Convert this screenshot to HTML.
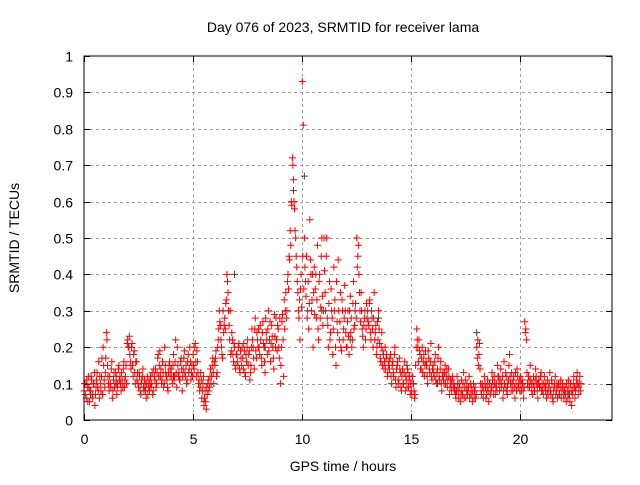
<!DOCTYPE html>
<html><head><meta charset="utf-8"><style>
body{margin:0;background:#fff;}
svg{font-family:"Liberation Sans",sans-serif;}
</style></head><body>
<svg id="chart" width="640" height="480" viewBox="0 0 640 480" xmlns="http://www.w3.org/2000/svg">
<rect width="640" height="480" fill="#fff"/>
<text x="343" y="32" font-size="14" text-anchor="middle">Day 076 of 2023, SRMTID for receiver lama</text>
<text transform="translate(19,238) rotate(-90)" font-size="14" text-anchor="middle">SRMTID / TECUs</text>
<text x="343" y="471" font-size="14" text-anchor="middle">GPS time / hours</text>
<g id="grid"></g>
<g id="ticks"></g>
<g id="black"></g>
<g id="red"></g>
<rect x="84" y="56" width="528" height="364" fill="none" stroke="#000" stroke-width="1"/>
</svg>
<script>
const xTicks=[0,5,10,15,20];
const yTicks=[0,0.1,0.2,0.3,0.4,0.5,0.6,0.7,0.8,0.9,1];
const yTickLabels=["0","0.1","0.2","0.3","0.4","0.5","0.6","0.7","0.8","0.9","1"];
const redHours=[0,1,2,3,4,5,6,7,8,9,10,11,12,13,14,15,16,17,18,19,20,21,22];
const redValues=[
[0.08,0.1,0.06,0.09,0.12,0.05,0.08,0.11,0.07,0.1,0.04,0.09,0.13,0.08,0.06,0.1,0.12,0.07,0.15,0.09],
[0.17,0.22,0.12,0.08,0.1,0.14,0.06,0.11,0.09,0.13,0.07,0.1,0.15,0.12,0.08,0.11,0.14,0.09,0.12,0.1],
[0.22,0.2,0.18,0.14,0.21,0.12,0.19,0.1,0.16,0.13,0.09,0.12,0.07,0.11,0.14,0.08,0.1,0.06,0.12,0.09],
[0.08,0.12,0.1,0.07,0.14,0.11,0.09,0.13,0.18,0.15,0.12,0.1,0.16,0.09,0.2,0.13,0.11,0.08,0.15,0.12],
[0.14,0.1,0.18,0.12,0.22,0.09,0.15,0.13,0.11,0.17,0.08,0.14,0.19,0.12,0.1,0.16,0.13,0.2,0.11,0.15],
[0.18,0.14,0.21,0.12,0.16,0.1,0.08,0.13,0.06,0.1,0.04,0.08,0.03,0.07,0.11,0.09,0.14,0.12,0.17,0.1],
[0.15,0.19,0.13,0.22,0.3,0.26,0.2,0.17,0.24,0.28,0.32,0.4,0.35,0.26,0.3,0.19,0.22,0.16,0.2,0.14],
[0.18,0.15,0.21,0.13,0.17,0.2,0.14,0.19,0.12,0.16,0.22,0.18,0.11,0.15,0.25,0.2,0.14,0.28,0.17,0.22],
[0.25,0.18,0.22,0.15,0.27,0.2,0.13,0.24,0.18,0.3,0.22,0.16,0.26,0.2,0.14,0.23,0.28,0.19,0.25,0.17],
[0.1,0.2,0.29,0.12,0.25,0.35,0.3,0.4,0.45,0.52,0.6,0.72,0.66,0.58,0.5,0.42,0.35,0.28,0.22,0.4],
[0.93,0.81,0.5,0.38,0.45,0.3,0.25,0.55,0.4,0.33,0.2,0.42,0.36,0.28,0.48,0.22,0.4,0.31,0.5,0.26],
[0.5,0.35,0.45,0.28,0.2,0.38,0.24,0.3,0.18,0.42,0.33,0.15,0.27,0.44,0.22,0.35,0.19,0.3,0.25,0.37],
[0.24,0.2,0.3,0.18,0.34,0.28,0.22,0.38,0.26,0.32,0.5,0.45,0.4,0.3,0.35,0.25,0.2,0.28,0.22,0.32],
[0.3,0.26,0.33,0.22,0.28,0.2,0.35,0.24,0.18,0.27,0.3,0.21,0.16,0.24,0.19,0.14,0.2,0.17,0.12,0.15],
[0.14,0.18,0.1,0.16,0.12,0.2,0.09,0.15,0.11,0.17,0.13,0.08,0.14,0.1,0.16,0.12,0.09,0.13,0.11,0.07],
[0.08,0.12,0.1,0.06,0.15,0.25,0.2,0.22,0.18,0.14,0.2,0.16,0.12,0.19,0.15,0.1,0.17,0.13,0.21,0.11],
[0.15,0.12,0.18,0.1,0.14,0.2,0.11,0.16,0.08,0.13,0.1,0.15,0.12,0.09,0.14,0.07,0.11,0.08,0.12,0.1],
[0.09,0.06,0.12,0.08,0.1,0.05,0.11,0.07,0.13,0.09,0.06,0.1,0.08,0.12,0.07,0.09,0.05,0.1,0.08,0.06],
[0.2,0.22,0.18,0.14,0.08,0.1,0.06,0.12,0.09,0.07,0.11,0.05,0.1,0.08,0.13,0.09,0.12,0.07,0.1,0.15],
[0.12,0.08,0.14,0.1,0.06,0.16,0.09,0.12,0.07,0.11,0.18,0.1,0.13,0.08,0.12,0.06,0.1,0.14,0.09,0.11],
[0.12,0.08,0.1,0.06,0.27,0.25,0.13,0.09,0.11,0.15,0.1,0.07,0.12,0.08,0.14,0.1,0.06,0.11,0.09,0.13],
[0.1,0.07,0.12,0.08,0.06,0.11,0.09,0.13,0.07,0.1,0.05,0.09,0.12,0.08,0.06,0.1,0.07,0.11,0.08,0.09],
[0.06,0.09,0.05,0.08,0.11,0.07,0.1,0.04,0.08,0.12,0.06,0.09,0.13,0.07,0.1,0.08]
];
const redValues2=[
[0.1,0.07,0.11,0.05,0.09,0.08,0.12,0.06,0.1,0.13,0.07,0.11,0.09,0.16,0.12,0.08,0.17,0.2,0.11,0.13],
[0.24,0.15,0.1,0.12,0.09,0.16,0.08,0.13,0.1,0.12,0.09,0.14,0.11,0.1,0.13,0.09,0.16,0.11,0.15,0.21],
[0.2,0.23,0.16,0.2,0.15,0.18,0.13,0.16,0.11,0.1,0.13,0.08,0.1,0.12,0.09,0.11,0.08,0.1,0.07,0.11],
[0.1,0.09,0.13,0.08,0.12,0.14,0.1,0.17,0.12,0.19,0.14,0.11,0.13,0.1,0.15,0.12,0.09,0.13,0.16,0.14],
[0.12,0.15,0.11,0.16,0.13,0.2,0.12,0.11,0.16,0.14,0.12,0.17,0.13,0.15,0.11,0.18,0.14,0.16,0.13,0.12],
[0.15,0.2,0.16,0.19,0.13,0.11,0.09,0.11,0.08,0.12,0.06,0.05,0.09,0.1,0.08,0.12,0.1,0.15,0.13,0.16],
[0.17,0.12,0.2,0.25,0.27,0.22,0.18,0.3,0.26,0.25,0.33,0.38,0.3,0.22,0.18,0.24,0.18,0.21,0.15,0.18],
[0.16,0.2,0.14,0.19,0.15,0.17,0.21,0.13,0.18,0.2,0.15,0.19,0.13,0.2,0.22,0.17,0.25,0.19,0.24,0.2],
[0.2,0.26,0.17,0.24,0.21,0.16,0.28,0.22,0.25,0.19,0.27,0.21,0.23,0.17,0.29,0.2,0.22,0.26,0.2,0.28],
[0.15,0.27,0.22,0.33,0.3,0.28,0.38,0.36,0.44,0.48,0.59,0.7,0.6,0.52,0.45,0.38,0.3,0.33,0.36,0.31],
[0.45,0.36,0.42,0.34,0.28,0.38,0.32,0.44,0.3,0.4,0.35,0.29,0.4,0.33,0.25,0.38,0.28,0.45,0.34,0.3],
[0.41,0.3,0.5,0.26,0.32,0.22,0.36,0.28,0.25,0.3,0.2,0.38,0.24,0.3,0.27,0.2,0.33,0.22,0.28,0.3],
[0.2,0.27,0.23,0.3,0.24,0.2,0.32,0.25,0.3,0.28,0.42,0.48,0.35,0.27,0.3,0.23,0.26,0.3,0.25,0.28],
[0.27,0.32,0.24,0.3,0.25,0.28,0.22,0.26,0.2,0.22,0.25,0.17,0.2,0.15,0.18,0.16,0.14,0.18,0.13,0.16],
[0.17,0.12,0.15,0.13,0.18,0.11,0.14,0.16,0.1,0.14,0.09,0.12,0.1,0.13,0.08,0.11,0.14,0.09,0.12,0.1],
[0.07,0.1,0.08,0.07,0.2,0.22,0.16,0.19,0.14,0.17,0.13,0.18,0.15,0.16,0.12,0.19,0.14,0.16,0.12,0.14],
[0.13,0.16,0.11,0.13,0.17,0.12,0.14,0.1,0.12,0.11,0.13,0.1,0.14,0.11,0.12,0.09,0.1,0.11,0.09,0.08],
[0.07,0.08,0.1,0.06,0.09,0.07,0.08,0.1,0.06,0.11,0.08,0.07,0.09,0.06,0.1,0.07,0.08,0.06,0.09,0.07],
[0.17,0.15,0.21,0.1,0.07,0.09,0.08,0.1,0.06,0.09,0.08,0.1,0.07,0.09,0.11,0.07,0.1,0.09,0.08,0.12],
[0.1,0.11,0.09,0.12,0.08,0.1,0.13,0.08,0.1,0.15,0.12,0.08,0.1,0.11,0.09,0.13,0.08,0.12,0.1,0.08],
[0.1,0.11,0.08,0.09,0.24,0.22,0.1,0.12,0.09,0.11,0.08,0.1,0.09,0.11,0.12,0.08,0.1,0.09,0.12,0.08],
[0.08,0.1,0.09,0.1,0.08,0.07,0.1,0.08,0.11,0.06,0.08,0.1,0.07,0.1,0.09,0.07,0.09,0.06,0.1,0.07],
[0.08,0.07,0.1,0.06,0.09,0.05,0.08,0.07,0.1,0.09,0.08,0.11,0.1,0.09,0.12,0.1]
];
const blackTimes=[0.3,1.5,2.8,4.1,5.5,6.9,8.3,9.6,10.1,10.9,12.2,13.5,14.8,16.2,18.0,19.4,20.8,22.2];
const blackValues=[0.07,0.1,0.09,0.12,0.05,0.4,0.2,0.63,0.67,0.3,0.22,0.28,0.15,0.1,0.24,0.09,0.1,0.07];
const X0=84,X1=612,Y0=420,Y1=56,XMAX=24.2;
const xs=t=>X0+t/XMAX*(X1-X0);
const ys=v=>Y0-v*(Y0-Y1);
const NS='http://www.w3.org/2000/svg';
const grid=document.getElementById('grid'),ticks=document.getElementById('ticks');
function ln(g,x1,y1,x2,y2,st,dash){const l=document.createElementNS(NS,'line');l.setAttribute('x1',x1);l.setAttribute('y1',y1);l.setAttribute('x2',x2);l.setAttribute('y2',y2);l.setAttribute('stroke',st);if(dash)l.setAttribute('stroke-dasharray',dash);g.appendChild(l);return l;}
function tx(g,x,y,s,anchor){const t=document.createElementNS(NS,'text');t.setAttribute('x',x);t.setAttribute('y',y);t.setAttribute('font-size','14');t.setAttribute('text-anchor',anchor);t.textContent=s;g.appendChild(t);return t;}
xTicks.forEach(v=>{const x=Math.round(xs(v))+0.5;
 if(v>0){const g=ln(grid,x,Y1,x,Y0,'#a0a0a0','3,3');}
 ln(ticks,x,Y0,x,Y0-6,'#000');ln(ticks,x,Y1,x,Y1+6,'#000');
 const t=tx(ticks,x,Y0+24,String(v),'middle');});
yTicks.forEach((v,i)=>{const y=Math.round(ys(v))+0.5;
 if(v>0&&v<1){const g=ln(grid,X0,y,X1,y,'#a0a0a0','3,3');}
 ln(ticks,X0,y,X0+6,y,'#000');ln(ticks,X1,y,X1-6,y,'#000');
 const t=tx(ticks,X0-11,y+5,yTickLabels[i],'end');});
function plus(g,t,v,col){const x=xs(t),y=ys(v);const p=document.createElementNS(NS,'path');
 p.setAttribute('d',`M${x-3.5} ${y}H${x+3.5}M${x} ${y-3.5}V${y+3.5}`);p.setAttribute('stroke',col);p.setAttribute('fill','none');
 
 
 g.appendChild(p);}
const bg=document.getElementById('black');
blackTimes.forEach((t,i)=>plus(bg,t,blackValues[i],'#404040'));
const rg=document.getElementById('red');
redHours.forEach((h,hi)=>redValues[hi].forEach((v,i)=>plus(rg,h+i/20,v,'#ff0000')));
redHours.forEach((h,hi)=>redValues2[hi].forEach((v,i)=>plus(rg,h+i/20+0.025,v,'#ff0000')));
</script>
</body></html>
